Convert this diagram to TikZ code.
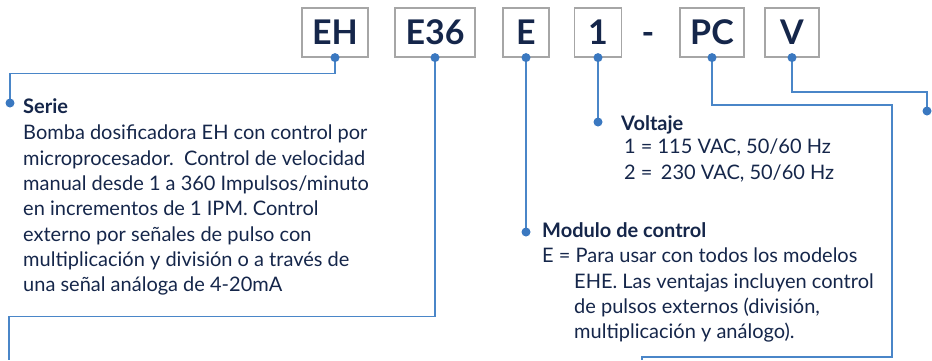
\documentclass[tikz,border=0pt]{standalone}
\usepackage{fontspec}
\setmainfont{Lato}
\usetikzlibrary{positioning}
\definecolor{navy}{HTML}{15264A}
\definecolor{linkblue}{HTML}{4A86C8}
\definecolor{dotblue}{HTML}{3A78C0}
\definecolor{boxgray}{HTML}{A6A6A6}
\begin{document}
\begin{tikzpicture}[
  x=1pt, y=-1pt,
  code/.style={rectangle, draw=boxgray, line width=1.2pt, minimum height=49pt, inner sep=0pt, text=navy, font=\fontsize{34}{34}\selectfont\bfseries},
  link/.style={draw=linkblue, line width=1.1pt},
  dot/.style={circle, fill=dotblue, inner sep=0pt, minimum size=9pt},
  head/.style={anchor=base west, inner sep=0pt, text=navy, font=\fontsize{20}{20}\selectfont\bfseries},
  body/.style={anchor=north west, inner sep=0pt, text=navy, align=left, font=\fontsize{20}{25.3}\selectfont}
]
  \useasboundingbox (0,0) rectangle (932,360);

  % Codigo del modelo
  \node[code, minimum width=66pt] (eh) at (335,32.5) {EH};
  \node[code, minimum width=80pt] (e36) at (435,32.5) {E36};
  \node[code, minimum width=46pt] (e) at (526,32.5) {E};
  \node[code, minimum width=47pt] (one) at (598,32.5) {1};
  \node[text=navy, font=\fontsize{34}{34}\selectfont\bfseries] (hyphen) at (648,38) {-};
  \node[code, minimum width=64pt] (pc) at (712,32.5) {PC};
  \node[code, minimum width=54pt] (v) at (792,32.5) {V};

  % Puntos de llegada
  \coordinate (serieDot) at (10,103);
  \coordinate (modDot) at (e.south |- 0,232);
  \coordinate (voltDot) at (one.south |- 0,122);
  \coordinate (vDot) at (927,111);
  \coordinate (e36End) at (9,360);
  \coordinate (pcEnd) at (642,360);

  % Serie
  \node[head] (seriehead) at (23,113) {Serie};
  \node[body] (seriebody) at (23,125) {Bomba dosificadora EH con control por\\
    microprocesador.\ \ Control de velocidad\\
    manual desde 1 a 360 Impulsos/minuto\\
    en incrementos de 1 IPM. Control\\
    externo por señales de pulso con\\
    multiplicación y división o a través de\\
    una señal análoga de 4-20mA};

  % Voltaje
  \node[head] (volthead) at (621,130) {Voltaje};
  \node[body] (voltbody) at (624,139) {1 = 115 VAC, 50/60 Hz\\
    2 = \,230 VAC, 50/60 Hz};

  % Modulo de control
  \node[head] (modhead) at (542,237) {Modulo de control};
  \node[body] (modbody) at (542,248) {E = Para usar con todos los modelos\\
    \hspace*{32pt}EHE. Las ventajas incluyen control\\
    \hspace*{32pt}de pulsos externos (división,\\
    \hspace*{32pt}multiplicación y análogo).};

  % Conectores
  \draw[link] (eh.south) -- ++(0,16) -| (serieDot);
  \draw[link] (e36.south) -- ++(0,259) -| (e36End);
  \draw[link] (e.south) -- (modDot);
  \draw[link] (one.south) -- (voltDot);
  \draw[link] (pc.south) |- (892,105) |- (642,357) -- (pcEnd);
  \draw[link] (v.south) |- (927,92) -- (vDot);

  % Puntos
  \foreach \n in {eh,e36,e,one,pc,v}
    \node[dot] at (\n.south) {};
  \foreach \c in {serieDot,modDot,voltDot,vDot}
    \node[dot] at (\c) {};
\end{tikzpicture}
\end{document}
